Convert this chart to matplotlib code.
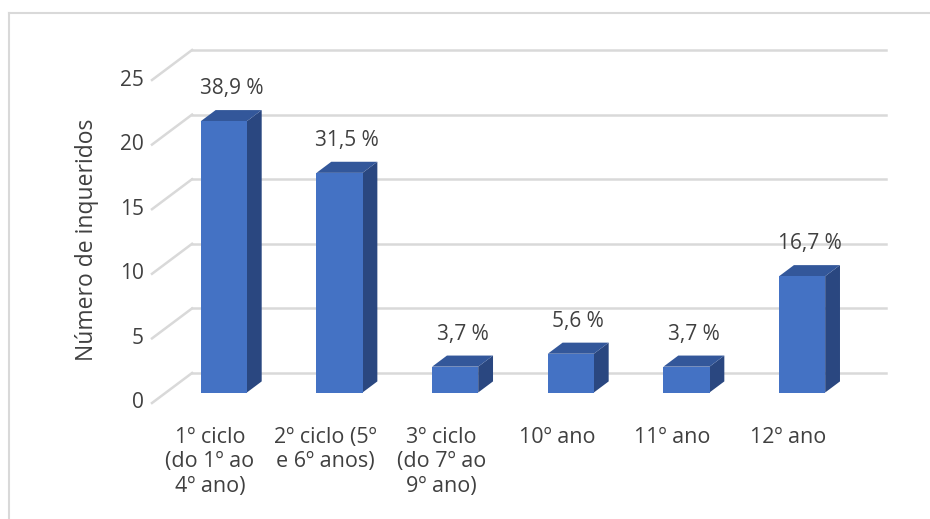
import matplotlib
matplotlib.use("Agg")
import matplotlib.pyplot as plt
from matplotlib.patches import Polygon, Rectangle
from matplotlib.lines import Line2D

categories = ["1º ciclo\n(do 1º ao\n4º ano)", "2º ciclo (5º\ne 6º anos)", "3º ciclo\n(do 7º ao\n9º ano)",
              "10º ano", "11º ano", "12º ano"]
values = [21, 17, 2, 3, 2, 9]
pct_labels = ["38,9 %", "31,5 %", "3,7 %", "5,6 %", "3,7 %", "16,7 %"]
yticks = [0, 5, 10, 15, 20, 25]
ylabel = "Número de inqueridos"

FONT = ["Open Sans", "DejaVu Sans"]
TXT = "#404040"
GRID = "#d9d9d9"
FRONT = "#4472C4"
TOP = "#33579A"
SIDE = "#2A4780"

W, H = 930, 519
fig = plt.figure(figsize=(W / 100, H / 100), dpi=100)

SCALE = 12.92
# depth vector in data units (full depth of the floor)
DX = 40 / 115.5
DY = 30 / SCALE
f0, fd = 0.35, 0.37     # bar front depth fraction and bar depth
bw = 46 / 115.5         # bar width in category units

xmin, xmax = -0.5, len(values) - 0.5 + DX
ymax = yticks[-1] + DY
left_px, right_px = 152, 886
bot_px = 403
top_px = bot_px - ymax * SCALE
ax = fig.add_axes([left_px / W, (H - bot_px) / H, (right_px - left_px) / W, (bot_px - top_px) / H])
ax.set_xlim(xmin, xmax)
ax.set_ylim(0, ymax)
ax.axis("off")

# gridlines: back wall and side wall
for v in yticks:
    ax.add_line(Line2D([-0.5 + DX, len(values) - 0.5 + DX], [v + DY, v + DY], color=GRID, lw=1.8, zorder=1,
                       clip_on=False))
    ax.add_line(Line2D([-0.5, -0.5 + DX], [v, v + DY], color=GRID, lw=1.8, zorder=1, clip_on=False))
    ax.text(-0.5 - 0.07, v, str(v), ha="right", va="center", fontsize=15, color=TXT, family=FONT)

for i, (h, lab) in enumerate(zip(values, pct_labels)):
    xl = i - bw / 2 + f0 * DX
    xr = xl + bw
    yb = f0 * DY
    yt = yb + h
    ddx, ddy = fd * DX, fd * DY
    ax.add_patch(Polygon([(xr, yb), (xr, yt), (xr + ddx, yt + ddy), (xr + ddx, yb + ddy)],
                         closed=True, fc=SIDE, ec="none", zorder=3))
    ax.add_patch(Polygon([(xl, yt), (xr, yt), (xr + ddx, yt + ddy), (xl + ddx, yt + ddy)],
                         closed=True, fc=TOP, ec="none", zorder=3))
    ax.add_patch(Rectangle((xl, yb), bw, h, fc=FRONT, ec="none", zorder=4))
    ax.text(i + f0 * DX + ddx / 2, yt + ddy + 1.65, lab, ha="center", va="center", fontsize=15,
            color=TXT, family=FONT, zorder=5)

for i, c in enumerate(categories):
    ax.text(i, -1.85, c, ha="center", va="top", fontsize=15.5, color=TXT, family=FONT, linespacing=1.22)

fig.text(87 / W, 1 - 240 / H, ylabel, rotation=90, ha="center", va="center", fontsize=16.5, color=TXT,
         family=FONT)

# chart border (top and left visible)
fig.add_artist(Line2D([9 / W, 9 / W], [0, 1 - 13 / H], transform=fig.transFigure, color=GRID, lw=1.5))
fig.add_artist(Line2D([9 / W, 1], [1 - 13 / H, 1 - 13 / H], transform=fig.transFigure, color=GRID, lw=1.5))

fig.savefig("out.png", dpi=100, facecolor="white")
